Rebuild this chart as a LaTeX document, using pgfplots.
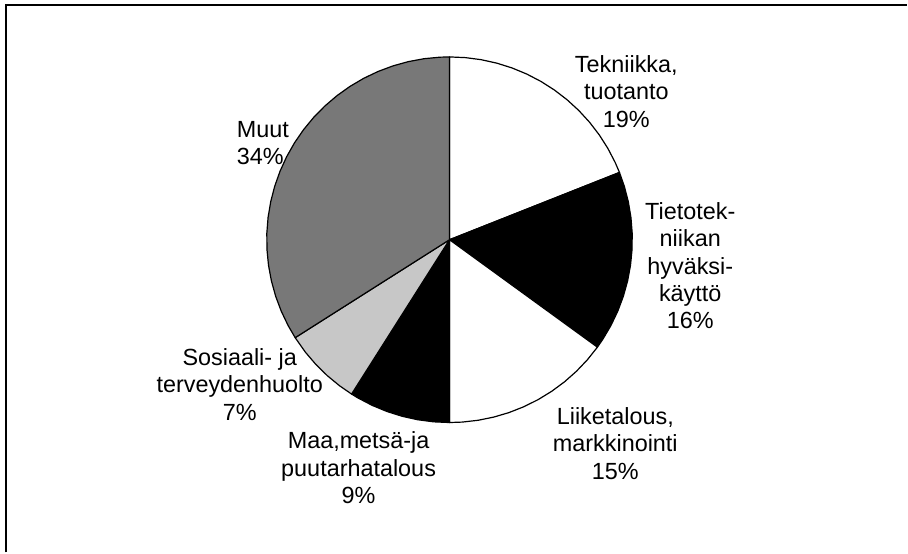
\documentclass[border=0pt]{standalone}
\usepackage{pgfplots}
\pgfplotsset{compat=1.18}
\usepgfplotslibrary{polar}
\usepackage{fontspec}
\setmainfont{Liberation Sans}
\definecolor{muut}{gray}{0.47}
\definecolor{sos}{gray}{0.78}
\begin{document}
\begin{tikzpicture}[x=1bp,y=1bp]
\path (0,0) rectangle (908,553);
\draw[line width=2bp] (6,0) -- (6,548) -- (908,548);
\begin{polaraxis}[hide axis, scale only axis, width=366bp, height=366bp,
  xmin=0, xmax=360, ymin=0, ymax=1, at={(450bp,313bp)}, anchor=center, clip=false,
  every axis plot/.append style={draw=black, line width=1.2bp, line join=round, mark=none}]
% Tekniikka, tuotanto 19%
\addplot[fill=white] coordinates {(0,0) (90,1) (85,1) (80,1) (75,1) (70,1) (65,1) (60,1) (55,1) (50,1) (45,1) (40,1) (35,1) (30,1) (25,1) (21.6,1)} --cycle;
% Tietotekniikan hyvaksikaytto 16%
\addplot[fill=black] coordinates {(0,0) (21.6,1) (17,1) (12,1) (7,1) (2,1) (-3,1) (-8,1) (-13,1) (-18,1) (-23,1) (-28,1) (-33,1) (-36,1)} --cycle;
% Liiketalous, markkinointi 15%
\addplot[fill=white] coordinates {(0,0) (-36,1) (-41,1) (-46,1) (-51,1) (-56,1) (-61,1) (-66,1) (-71,1) (-76,1) (-81,1) (-86,1) (-90,1)} --cycle;
% Maa, metsa- ja puutarhatalous 9%
\addplot[fill=black] coordinates {(0,0) (-90,1) (-95,1) (-100,1) (-105,1) (-110,1) (-115,1) (-120,1) (-122.4,1)} --cycle;
% Sosiaali- ja terveydenhuolto 7%
\addplot[fill=sos] coordinates {(0,0) (-122.4,1) (-127,1) (-132,1) (-137,1) (-142,1) (-147.6,1)} --cycle;
% Muut 34%
\addplot[fill=muut] coordinates {(0,0) (-147.6,1) (-152,1) (-157,1) (-162,1) (-167,1) (-172,1) (-177,1) (-182,1) (-187,1) (-192,1) (-197,1) (-202,1) (-207,1) (-212,1) (-217,1) (-222,1) (-227,1) (-232,1) (-237,1) (-242,1) (-247,1) (-252,1) (-257,1) (-262,1) (-267,1) (-270,1)} --cycle;
\end{polaraxis}
\tikzset{lab/.style={inner sep=0pt, align=center, font=\fontsize{23.5}{27.5}\selectfont}}
\node[lab] at (627,461.5) {Tekniikka,\\tuotanto\\19\%};
\node[lab] at (691,287) {Tietotek-\\niikan\\hyväksi-\\käyttö\\16\%};
\node[lab] at (616,109) {Liiketalous,\\markkinointi\\15\%};
\node[lab] at (359,84.5) {Maa,metsä-ja\\puutarhatalous\\9\%};
\node[lab] at (240,168) {Sosiaali- ja\\terveydenhuolto\\7\%};
\node[lab, anchor=west, align=left] at (237,409.5) {Muut\\34\%};
\end{tikzpicture}
\end{document}
